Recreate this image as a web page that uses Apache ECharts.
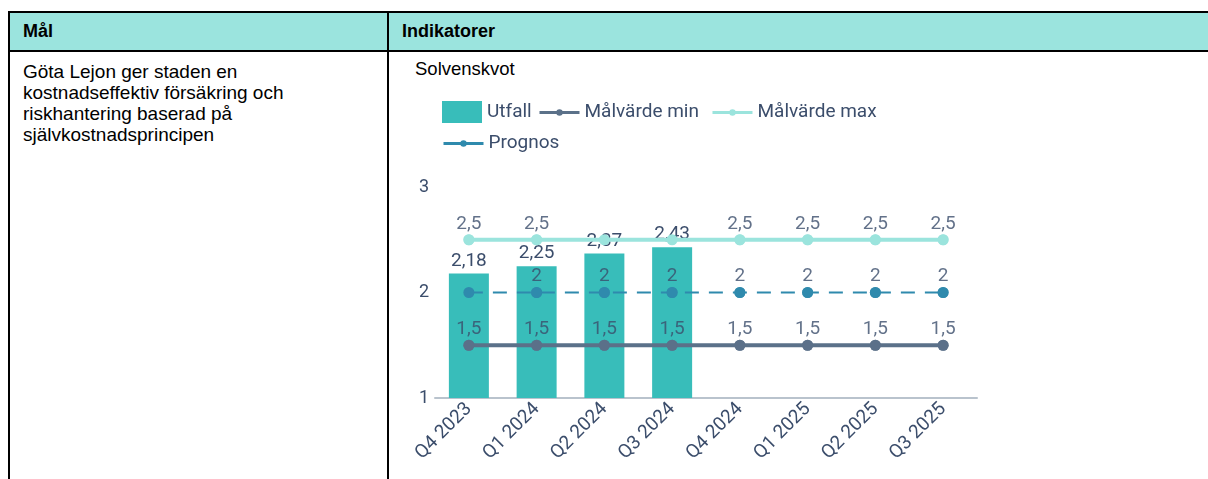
<!DOCTYPE html>
<html>
<head>
<meta charset="utf-8">
<script src="https://cdn.jsdelivr.net/npm/echarts@6/dist/echarts.min.js"></script>
<style>
  body { margin: 0; background: #fff; width: 1208px; height: 479px; overflow: hidden; position: relative; font-family: "Liberation Sans", Arial, sans-serif; }
  .ln { position: absolute; background: #000; }
  .hdr { position: absolute; top: 13px; left: 10px; right: 0; height: 37px; background: #9be4de; }
  .txt { position: absolute; color: #000; }
  .bold { font-weight: bold; font-size: 18px; line-height: 21px; }
  .body { font-size: 19px; line-height: 21px; }
  #chart { position: absolute; left: 400px; top: 80px; width: 600px; height: 399px; }
</style>
</head>
<body>
<div class="hdr"></div>
<div class="ln" style="left:8px; right:0; top:11px; height:2px;"></div>
<div class="ln" style="left:8px; right:0; top:50px; height:2px;"></div>
<div class="ln" style="left:8px; width:2px; top:11px; bottom:0;"></div>
<div class="ln" style="left:387px; width:2px; top:11px; bottom:0;"></div>
<div class="txt bold" style="left:23px; top:21px;">Mål</div>
<div class="txt bold" style="left:402px; top:21px;">Indikatorer</div>
<div class="txt body" style="left:23px; top:61px; width:360px;">Göta Lejon ger staden en<br>kostnadseffektiv försäkring och<br>riskhantering baserad på<br>självkostnadsprincipen</div>
<div class="txt body" style="left:415px; top:58px; font-size:18.5px;">Solvenskvot</div>
<div id="chart"></div>
<script>
var categories = ['Q4 2023', 'Q1 2024', 'Q2 2024', 'Q3 2024', 'Q4 2024', 'Q1 2025', 'Q2 2025', 'Q3 2025'];
var utfall = [2.18, 2.25, 2.37, 2.43, null, null, null, null];
var malMin = [1.5, 1.5, 1.5, 1.5, 1.5, 1.5, 1.5, 1.5];
var malMax = [2.5, 2.5, 2.5, 2.5, 2.5, 2.5, 2.5, 2.5];
var prognos = [2, 2, 2, 2, 2, 2, 2, 2];

var textColor = '#3b4d6b';
var font = 'Roboto';
var fs = 19;

function comma(p) {
  var v = Array.isArray(p.value) ? p.value[1] : p.value;
  return String(v).replace('.', ',');
}

// the original drops a line label when it runs into the bar label
function collides(v, i) {
  var b = utfall[i];
  if (b == null) return false;
  if (v > b) return v - b < 0.15;
  return b - v < 0.2;
}

// points that keep their label; the rest are left empty
function labelled(arr) {
  return arr.map(function (v, i) { return collides(v, i) ? '-' : v; });
}

function lineSeries(name, arr, color, lineStyle) {
  return {
    name: name,
    type: 'line',
    data: arr,
    symbol: 'circle',
    symbolSize: 11,
    itemStyle: { color: color },
    lineStyle: lineStyle,
    label: { show: false }
  };
}

// labels ride on a scatter copy of the line points
function labelSeries(arr, color) {
  return {
    name: '',
    type: 'scatter',
    data: labelled(arr),
    symbol: 'circle',
    symbolSize: 11,
    itemStyle: { color: color },
    z: 3,
    label: { show: true, position: 'top', distance: 1, color: textColor, fontFamily: font, fontSize: fs, formatter: comma }
  };
}

var chart = echarts.init(document.getElementById('chart'), null, { renderer: 'canvas' });

var legendText = { color: textColor, fontFamily: font, fontSize: fs };
var legendLine = { type: 'solid', width: 3 };

var option = {
  animation: false,
  legend: [{
    data: ['Utfall'],
    padding: 0,
    left: 42,
    top: 21,
    icon: 'rect',
    itemWidth: 40,
    itemHeight: 22,
    textStyle: legendText
  }, {
    data: ['Målvärde min', 'Målvärde max'],
    padding: 0,
    left: 138,
    top: 23,
    itemWidth: 40,
    itemHeight: 8,
    itemGap: 12,
    lineStyle: legendLine,
    textStyle: legendText
  }, {
    data: ['Prognos'],
    padding: 0,
    left: 42,
    top: 54,
    itemWidth: 40,
    itemHeight: 8,
    lineStyle: legendLine,
    textStyle: legendText
  }],
  grid: {
    left: 35,
    top: 107,
    width: 542,
    height: 211
  },
  xAxis: {
    type: 'category',
    data: categories,
    axisLine: { lineStyle: { color: '#b9c3cd', width: 2 } },
    axisTick: { show: false },
    axisLabel: { rotate: 45, margin: 8, color: textColor, fontFamily: font, fontSize: fs }
  },
  yAxis: {
    type: 'value',
    min: 1,
    max: 3,
    interval: 1,
    axisLine: { show: false },
    axisTick: { show: false },
    splitLine: { show: false },
    axisLabel: { margin: 6, color: textColor, fontFamily: font, fontSize: 18 }
  },
  series: [{
    name: 'Utfall',
    type: 'bar',
    data: utfall,
    barWidth: 40,
    itemStyle: { color: '#38bdba' },
    label: { show: true, position: 'top', distance: 3, color: textColor, fontFamily: font, fontSize: fs, formatter: comma }
  },
  lineSeries('Målvärde min', malMin, '#5b7189', { width: 4, color: '#5b7189' }),
  lineSeries('Målvärde max', malMax, '#9be4dd', { width: 4, color: '#9be4dd' }),
  lineSeries('Prognos', prognos, '#2f8aad', { width: 2, color: '#2f8aad', type: [14, 10] }),
  labelSeries(malMin, '#5b7189'),
  labelSeries(malMax, '#9be4dd'),
  labelSeries(prognos, '#2f8aad')
  ]
};

chart.setOption(option);
</script>
</body>
</html>
